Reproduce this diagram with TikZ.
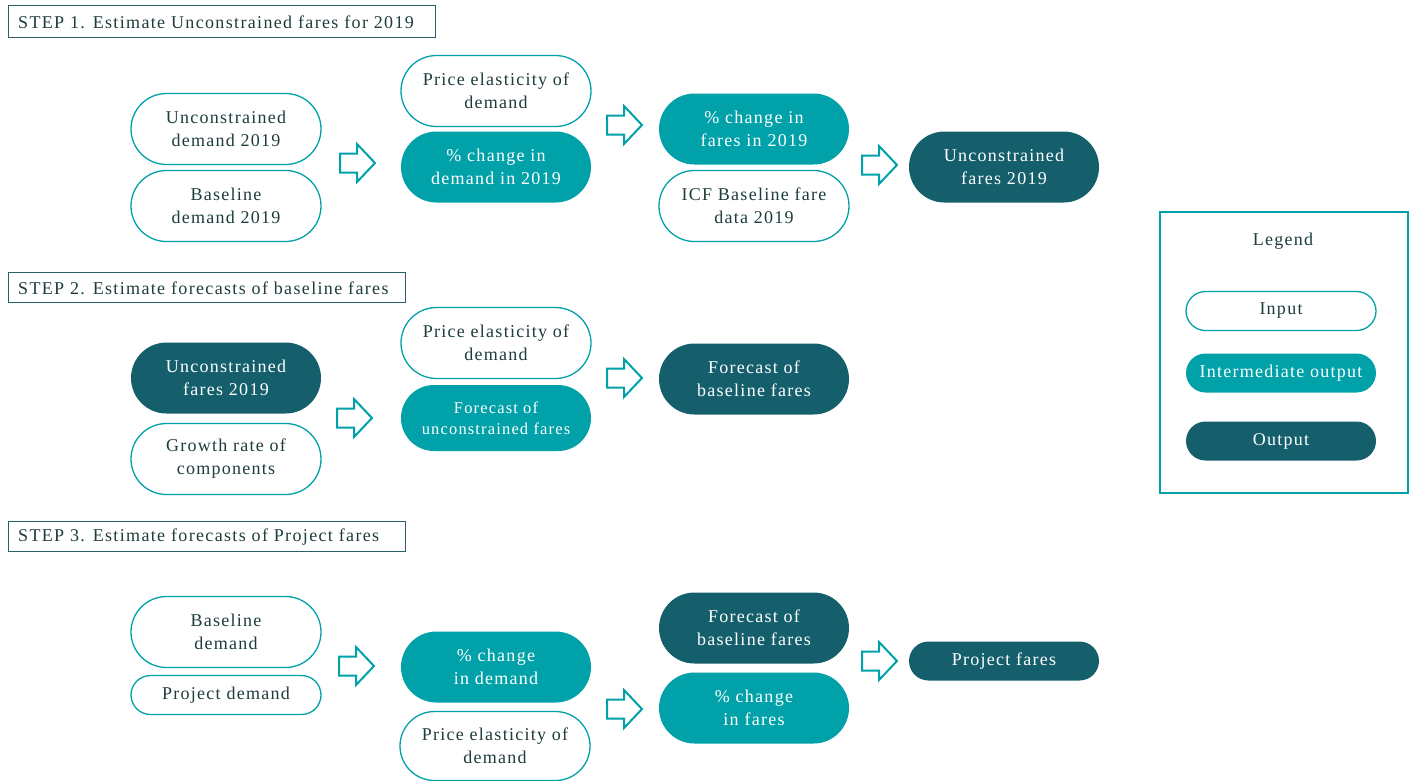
\documentclass[tikz,border=0pt]{standalone}
\usepackage{fontspec}
\setmainfont{Liberation Serif}[LetterSpace=7]
\newfontfamily\stepfont{Liberation Serif}[LetterSpace=7.5]
\usetikzlibrary{shapes.misc}
\definecolor{teal1}{HTML}{00A1A9}
\definecolor{dark1}{HTML}{155F6C}
\definecolor{txt}{HTML}{1E3C3C}
\definecolor{stepc}{HTML}{2A5F6A}
\tikzset{
  base/.style={rounded rectangle, minimum width=190pt, minimum height=71pt, inner sep=0pt, align=center,
    font=\fontsize{18}{23}\selectfont},
  inbox/.style={base, draw=teal1, line width=1.3pt, fill=white, text=txt},
  midbox/.style={base, fill=teal1, text=white},
  outbox/.style={base, fill=dark1, text=white},
  short/.style={minimum height=39pt},
  steplabel/.style={anchor=west, inner sep=0pt, text=txt, font=\stepfont\fontsize{18}{20}\selectfont},
  stepframe/.style={draw=stepc, line width=1pt},
  barrow/.style={draw=teal1, line width=2pt, fill=white, line join=miter},
}
\newcommand\blockarrow[2]{\draw[barrow] (#1,#2) ++(0,-9.5) -- ++(17,0) -- ++(0,-9.5) -- ++(18,19) -- ++(-18,19) -- ++(0,-9.5) -- ++(-17,0) -- cycle;}
\begin{document}
\begin{tikzpicture}[x=1pt,y=-1pt]
\useasboundingbox (0,0) rectangle (1410,780);
% step labels
\draw[stepframe] (8,5) rectangle (435,37);
\node[steplabel] (s1) at (18,22) {STEP 1. Estimate Unconstrained fares for 2019};
\draw[stepframe] (8,272) rectangle (405,302);
\node[steplabel] (s2) at (18,288) {STEP 2. Estimate forecasts of baseline fares};
\draw[stepframe] (8,521) rectangle (405,551);
\node[steplabel] (s3) at (18,537) {STEP 3. Estimate forecasts of Project fares};

% Step 1
\node[inbox] (a1) at (226,129) {Unconstrained\\demand 2019};
\node[inbox] (a2) at (226,206) {Baseline\\demand 2019};
\blockarrow{340}{163}
\node[inbox] (a3) at (496,91) {Price elasticity of\\demand};
\node[midbox] (a4) at (496,167) {\% change in\\demand in 2019};
\blockarrow{607}{125}
\node[midbox] (a5) at (754,129) {\% change in\\fares in 2019};
\node[inbox] (a6) at (754,206) {ICF Baseline fare\\data 2019};
\blockarrow{862}{165}
\node[outbox] (a7) at (1004,167) {Unconstrained\\fares 2019};

% Step 2
\node[outbox] (b1) at (226,378) {Unconstrained\\fares 2019};
\node[inbox] (b2) at (226,459) {Growth rate of\\components};
\blockarrow{337}{418}
\node[inbox] (b3) at (496,343) {Price elasticity of\\demand};
\node[midbox, minimum height=66pt, font=\fontsize{16.5}{21}\selectfont] (b4) at (496,418) {Forecast of\\unconstrained fares};
\blockarrow{607}{378}
\node[outbox] (b5) at (754,379) {Forecast of\\baseline fares};

% Step 3
\node[inbox] (c1) at (226,632) {Baseline\\demand};
\node[inbox, short] (c2) at (226,695) {Project demand};
\blockarrow{339}{666}
\node[midbox] (c3) at (496,667) {\% change\\in demand};
\node[inbox, minimum height=69pt] (c4) at (495,746) {Price elasticity of\\demand};
\node[outbox] (c5) at (754,628) {Forecast of\\baseline fares};
\node[midbox] (c6) at (754,708) {\% change\\in fares};
\blockarrow{607}{709}
\blockarrow{862}{661}
\node[outbox, short] (c7) at (1004,661) {Project fares};

% Legend
\draw[teal1, line width=2pt] (1160,212) rectangle (1408,493);
\node[text=txt, font=\fontsize{18}{23}\selectfont] (lg) at (1283,241) {Legend};
\node[inbox, short] (l1) at (1281,311) {Input};
\node[midbox, short] (l2) at (1281,373) {Intermediate output};
\node[outbox, short] (l3) at (1281,441) {Output};
\end{tikzpicture}
\end{document}
